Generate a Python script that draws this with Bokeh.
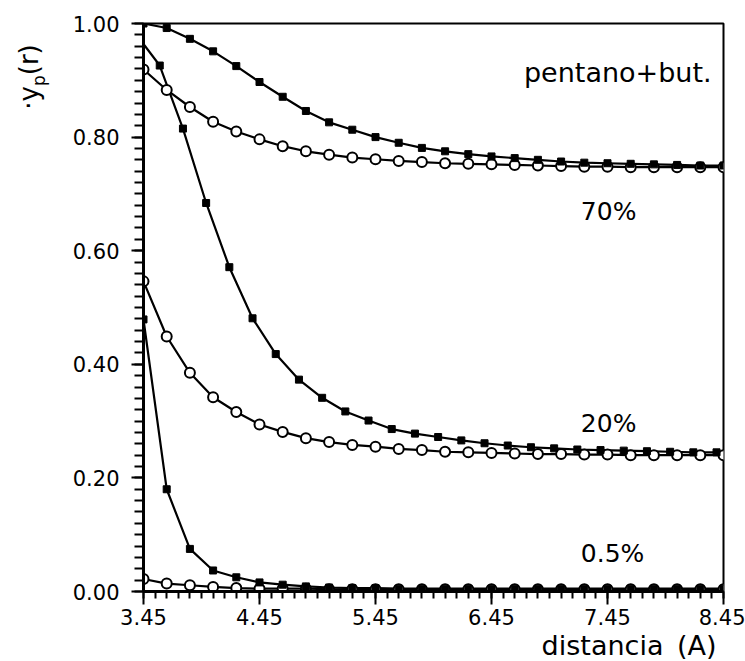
import numpy as np
from bokeh.plotting import figure
from bokeh.layouts import row
from bokeh.models import Range1d, FixedTicker, PrintfTickFormatter, Label, Title, Div
from bokeh.embed import file_html
from bokeh.resources import INLINE

# Distances (A) on the common 0.2 grid
r_grid = [3.45, 3.65, 3.85, 4.05, 4.25, 4.45, 4.65, 4.85, 5.05, 5.25, 5.45, 5.65, 5.85,
          6.05, 6.25, 6.45, 6.65, 6.85, 7.05, 7.25, 7.45, 7.65, 7.85, 8.05, 8.25, 8.45]
# The 20% filled series is sampled on a shifted grid
r_shift = [3.39, 3.59, 3.79, 3.99, 4.19, 4.39, 4.59, 4.79, 4.99, 5.19, 5.39, 5.59, 5.79,
           5.99, 6.19, 6.39, 6.59, 6.79, 6.99, 7.19, 7.39, 7.59, 7.79, 7.99, 8.19, 8.39]

# 70 %
y70_filled = [1.000, 0.992, 0.973, 0.951, 0.925, 0.897, 0.871, 0.846, 0.826, 0.813, 0.800, 0.790, 0.781,
              0.775, 0.770, 0.766, 0.763, 0.760, 0.757, 0.755, 0.754, 0.753, 0.752, 0.751, 0.750, 0.750]
y70_open = [0.919, 0.883, 0.853, 0.827, 0.810, 0.796, 0.784, 0.775, 0.769, 0.764, 0.761, 0.758, 0.756,
            0.754, 0.753, 0.752, 0.751, 0.750, 0.749, 0.748, 0.748, 0.747, 0.747, 0.747, 0.747, 0.747]
# 20 %
y20_filled = [0.980, 0.926, 0.815, 0.684, 0.571, 0.481, 0.418, 0.373, 0.341, 0.317, 0.301, 0.286, 0.278,
              0.272, 0.266, 0.261, 0.257, 0.254, 0.252, 0.250, 0.249, 0.248, 0.247, 0.246, 0.245, 0.245]
y20_open = [0.546, 0.449, 0.385, 0.342, 0.316, 0.294, 0.281, 0.270, 0.263, 0.258, 0.255, 0.251, 0.249,
            0.246, 0.245, 0.244, 0.243, 0.242, 0.242, 0.241, 0.241, 0.240, 0.240, 0.240, 0.240, 0.240]
# 0.5 %
y05_filled = [0.479, 0.180, 0.075, 0.037, 0.025, 0.016, 0.012, 0.009, 0.007, 0.006, 0.006, 0.005, 0.005,
              0.005, 0.005, 0.005, 0.005, 0.005, 0.005, 0.005, 0.005, 0.005, 0.005, 0.005, 0.005, 0.005]
y05_open = [0.022, 0.014, 0.011, 0.008, 0.006, 0.005, 0.005, 0.005, 0.004, 0.004, 0.004, 0.004, 0.004,
            0.004, 0.004, 0.004, 0.004, 0.004, 0.004, 0.004, 0.004, 0.004, 0.004, 0.004, 0.004, 0.004]

x_ticks = [3.45, 4.45, 5.45, 6.45, 7.45, 8.45]
y_ticks = [0.0, 0.2, 0.4, 0.6, 0.8, 1.0]

FONT = "DejaVu Sans"
LABEL_W = 60  # width of the strip that holds the vertical axis title

p = figure(width=745 - LABEL_W, height=661, x_range=Range1d(3.45, 8.45), y_range=Range1d(0.0, 1.0),
           output_backend="svg", toolbar_location=None,
           min_border_left=143 - LABEL_W, min_border_right=22, min_border_top=23, min_border_bottom=70)
p.grid.visible = False
p.background_fill_color = "white"
p.border_fill_color = "white"
p.outline_line_color = "black"
p.outline_line_width = 2

for ax in (p.xaxis, p.yaxis):
    ax.axis_line_width = 3
    ax.axis_line_color = "black"
    ax.major_tick_line_width = 2
    ax.minor_tick_line_width = 2
    ax.major_tick_in = 0
    ax.minor_tick_in = 0
    ax.major_label_text_font = FONT
    ax.major_label_text_font_size = "21px"
    ax.major_label_text_color = "black"

p.xaxis.ticker = FixedTicker(ticks=x_ticks, minor_ticks=list(np.round(np.arange(3.45, 8.451, 0.1), 2)))
p.xaxis.formatter = PrintfTickFormatter(format="%.2f")
p.xaxis.major_tick_out = 13
p.xaxis.minor_tick_out = 7
p.xaxis.major_label_standoff = 4

p.yaxis.ticker = FixedTicker(ticks=y_ticks, minor_ticks=list(np.round(np.arange(0.0, 1.001, 0.02), 2)))
p.yaxis.formatter = PrintfTickFormatter(format="%.2f")
p.yaxis.major_tick_out = 12
p.yaxis.minor_tick_out = 9
p.yaxis.major_label_standoff = 12

series = [
    (r_grid, y70_open, "open"),
    (r_grid, y20_open, "open"),
    (r_grid, y05_open, "open"),
    (r_grid, y70_filled, "filled"),
    (r_shift, y20_filled, "filled"),
    (r_grid, y05_filled, "filled"),
]
for xs, ys, kind in series:
    p.line(xs, ys, line_color="black", line_width=2.2)
for xs, ys, kind in series:
    if kind == "open":
        p.scatter(xs, ys, marker="circle", size=10, fill_color="white",
                  line_color="black", line_width=2)
for xs, ys, kind in series:
    if kind == "filled":
        p.scatter(xs, ys, marker="square", size=7, fill_color="black",
                  line_color="black", line_width=1)

def add_text(x, y, text, size):
    p.add_layout(Label(x=x, y=y, text=text, text_font=FONT, text_font_size=size,
                       text_color="black", text_align="left", text_baseline="alphabetic"))

add_text(6.73, 0.914, "pentano+but.", "27px")
add_text(7.22, 0.669, "70%", "25px")
add_text(7.22, 0.296, "20%", "25px")
add_text(7.22, 0.067, "0.5%", "25px")

# Horizontal axis title in the bottom panel, right aligned
xt = Title(text="distancia\u2002(A)", align="right", offset=7, standoff=0,
           text_font=FONT, text_font_size="27px", text_font_style="normal", text_color="black")
p.add_layout(xt, "below")

# Vertical axis title, rotated with CSS in a narrow strip left of the plot
ylab = Div(
    text=('<div style="position:absolute; left:32px; top:77px; '
          'transform:translate(-50%,-50%) rotate(-90deg); white-space:nowrap; '
          'font-family:\'DejaVu Sans\'; font-size:26px; color:black; line-height:1;">'
          '·y<sub style="font-size:17px;">p</sub>(r)</div>'),
    width=LABEL_W, height=661, margin=0,
    styles={"position": "relative", "overflow": "visible"},
)

layout = row(ylab, p, spacing=0)
open("out.html", "w").write(file_html(layout, INLINE))
